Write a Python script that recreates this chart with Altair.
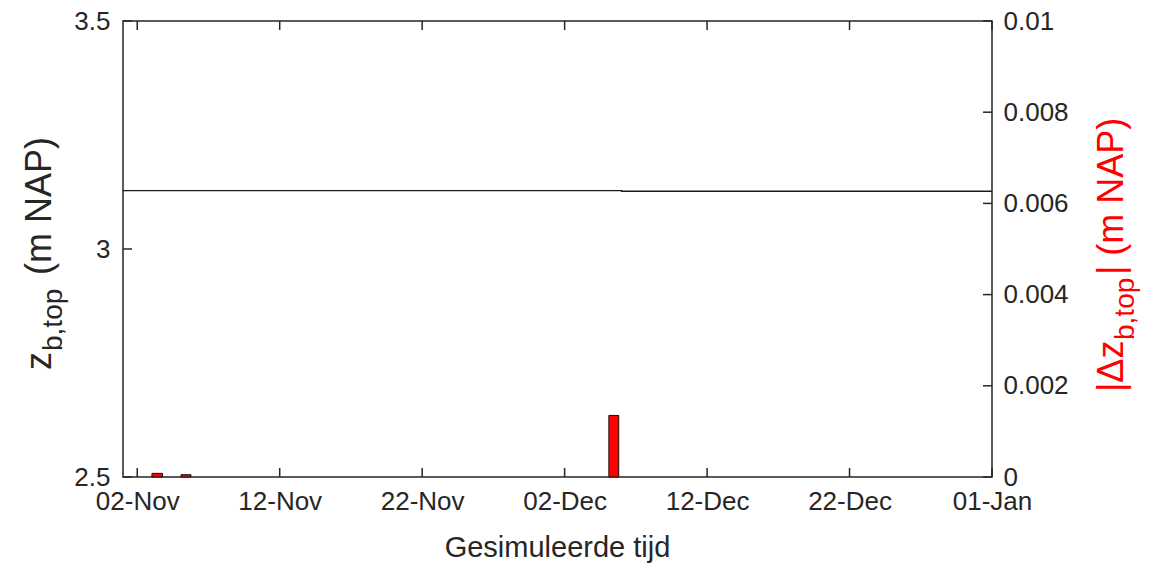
import altair as alt
import pandas as pd

# ---- data ----
line_dates = ["2020-11-01T00:00:00Z", "2020-11-03T00:00:00Z", "2020-11-05T00:00:00Z",
              "2020-12-06T00:00:00Z", "2021-01-01T00:00:00Z"]
line_values = [3.12813, 3.12805, 3.12800, 3.12665, 3.12665]

bar_start = ["2020-11-03T00:45:00Z", "2020-11-05T01:40:00Z", "2020-12-05T02:30:00Z"]
bar_end = ["2020-11-03T18:30:00Z", "2020-11-05T18:30:00Z", "2020-12-05T19:10:00Z"]
bar_values = [0.00008, 0.00005, 0.00135]

x_tick_dates = [(2020, 11, 2), (2020, 11, 12), (2020, 11, 22), (2020, 12, 2),
                (2020, 12, 12), (2020, 12, 22), (2021, 1, 1)]
left_ticks = [2.5, 3.0, 3.5]
right_ticks = [0, 0.002, 0.004, 0.006, 0.008, 0.01]

x_title = "Gesimuleerde tijd"
left_title_parts = ["z", "b,top", "(m NAP)"]
right_title_parts = ["|\u0394z", "b,top", "| (m NAP)"]

W, H = 869, 456
FONT = "Liberation Sans"
TXT = "#262626"

line_df = pd.DataFrame({"t": line_dates, "v": line_values})
bar_df = pd.DataFrame({"t0": bar_start, "t1": bar_end, "v": bar_values, "z": 0.0})
xt_df = pd.DataFrame({"t": [f"{y}-{m:02d}-{d:02d}T00:00:00Z" for y, m, d in x_tick_dates]})
lt_df = pd.DataFrame({"v": left_ticks})
rt_df = pd.DataFrame({"v": right_ticks})

xdom = [alt.DateTime(year=2020, month=11, date=1, utc=True),
        alt.DateTime(year=2021, month=1, date=1, utc=True)]
xscale = alt.Scale(type="utc", domain=xdom, nice=False)
xvals = [alt.DateTime(year=y, month=m, date=d, utc=True) for y, m, d in x_tick_dates]
xaxis = alt.Axis(values=xvals, format="%d-%b", title=None, labelFontSize=26, labelPadding=11,
                 ticks=False, domain=False, grid=False, labelOverlap=False, labelFlush=False,
                 labelBound=False, labelColor=TXT, labelFont=FONT)

lscale = alt.Scale(domain=[2.5, 3.5], nice=False, zero=False)
rscale = alt.Scale(domain=[0, 0.01], nice=False, zero=False)
laxis = alt.Axis(orient="left", values=left_ticks, format="~g", title=None,
                 labelFontSize=26, labelPadding=13, ticks=False, domain=False, grid=False,
                 labelColor=TXT, labelFont=FONT, labelOverlap=False, labelFlush=False)
raxis = alt.Axis(orient="right", values=right_ticks, format="~g", title=None,
                 labelFontSize=26, labelPadding=11, ticks=False, domain=False, grid=False,
                 labelColor=TXT, labelFont=FONT, labelOverlap=False, labelFlush=False)

line = alt.Chart(line_df).mark_line(interpolate="step-after", color="#1a1a1a", strokeWidth=1.3).encode(
    x=alt.X("t:T", scale=xscale, axis=xaxis),
    y=alt.Y("v:Q", scale=lscale, axis=laxis),
)

ltick = alt.Chart(lt_df).mark_rule(color="#262626", strokeWidth=1.5).encode(
    y=alt.Y("v:Q", scale=lscale, axis=laxis), x=alt.value(0), x2=alt.value(9))

xtick_b = alt.Chart(xt_df).mark_rule(color="#262626", strokeWidth=1.5).encode(
    x=alt.X("t:T", scale=xscale, axis=xaxis), y=alt.value(H - 9), y2=alt.value(H))
xtick_t = alt.Chart(xt_df).mark_rule(color="#262626", strokeWidth=1.5).encode(
    x=alt.X("t:T", scale=xscale, axis=xaxis), y=alt.value(0), y2=alt.value(9))

one = pd.DataFrame({"a": [0]})
def txt(s, size, x, y, angle=0, align="left", dx=0, dy=0, color=TXT):
    kw = dict(text=s, fontSize=size, font=FONT, align=align, baseline="alphabetic", color=color,
              dx=dx, dy=dy)
    if angle:
        kw["angle"] = angle
    return alt.Chart(one).mark_text(**kw).encode(x=alt.value(x), y=alt.value(y))

F, f = 36, 28
RED = "#ff0000"
# left title
lx, ly = -72, 349
left_title = [
    txt(left_title_parts[0], F, lx, ly, angle=270, dx=0),
    txt(left_title_parts[1], f, lx, ly, angle=270, dx=19, dy=11),
    txt(left_title_parts[2], F, lx, ly, angle=270, dx=19 + 62 + 14),
]
# right title
rx, ry = 1000, 371
right_title = [
    txt(right_title_parts[0], F, rx, ry, angle=270, dx=0, color=RED),
    txt(right_title_parts[1], f, rx, ry, angle=270, dx=52, dy=11, color=RED),
    txt(right_title_parts[2], F, rx, ry, angle=270, dx=52 + 63 + 2, color=RED),
]
xt = txt(x_title, 29, W / 2, H + 80, align="center")

bars = alt.Chart(bar_df).mark_rect(color=RED, stroke="#111111", strokeWidth=1).encode(
    x=alt.X("t0:T", scale=xscale, axis=xaxis),
    x2="t1:T",
    y=alt.Y("v:Q", scale=rscale, axis=raxis),
    y2="z:Q",
)
rtick = alt.Chart(rt_df).mark_rule(color="#262626", strokeWidth=1.5).encode(
    y=alt.Y("v:Q", scale=rscale, axis=raxis), x=alt.value(W - 9), x2=alt.value(W))

left = alt.layer(line, ltick, xtick_b, xtick_t, *left_title, xt)
right = alt.layer(bars, rtick, *right_title)

chart = alt.layer(left, right).resolve_scale(y="independent").properties(
    width=W, height=H,
    autosize=alt.AutoSizeParams(type="none"),
    padding={"left": 123, "top": 21, "right": 1152 - 123 - W, "bottom": 565 - 21 - H},
    background="white",
).configure(font=FONT).configure_view(stroke="#262626", strokeWidth=1.5)

chart.save("out.html", embed_options={"renderer": "svg", "actions": False})
